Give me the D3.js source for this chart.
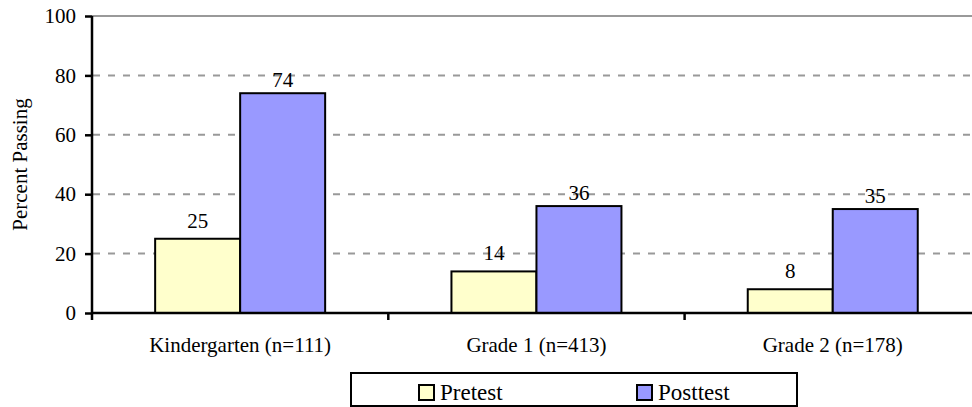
<!DOCTYPE html>
<html>
<head>
<meta charset="utf-8">
<script src="https://cdn.jsdelivr.net/npm/d3@7"></script>
<style>
  html, body { margin: 0; padding: 0; background: #fff; }
  svg { display: block; }
</style>
</head>
<body>
<svg id="chart" width="972" height="407"></svg>
<script>
const categories = ["Kindergarten (n=111)", "Grade 1 (n=413)", "Grade 2 (n=178)"];
const seriesNames = ["Pretest", "Posttest"];
const pretest = [25, 14, 8];
const posttest = [74, 36, 35];
const yTicks = [0, 20, 40, 60, 80, 100];
const colors = ["#FFFFCC", "#9999FF"];

(function () {
const FONT = '"Liberation Serif", "Times New Roman", Times, serif';
const svg = d3.select("#chart");
const W = 972;
const mLeft = 92, mTop = 16, mBottom = 313;
const bandW = 296.3;
const mRight = mLeft + bandW * categories.length;

const x = d3.scaleBand().domain(categories).range([mLeft, mRight]).paddingInner(0).paddingOuter(0);
const barW = 85;
const xs = d3.scaleBand().domain(seriesNames).range([0, barW * 2]);
const y = d3.scaleLinear().domain([0, 100]).range([mBottom, mTop]);

// gridlines
svg.append("g").selectAll("line")
  .data(yTicks.filter(d => d > 0 && d < 100))
  .join("line")
  .attr("x1", mLeft + 1).attr("x2", W)
  .attr("y1", d => y(d)).attr("y2", d => y(d))
  .attr("stroke", "#999").attr("stroke-width", 2)
  .attr("stroke-dasharray", "7,8");
svg.append("line")
  .attr("x1", mLeft).attr("x2", W)
  .attr("y1", y(100)).attr("y2", y(100))
  .attr("stroke", "#999").attr("stroke-width", 2);

// bars
const data = categories.map((c, i) => ({ c, vals: [pretest[i], posttest[i]] }));
const groups = svg.append("g").selectAll("g")
  .data(data).join("g")
  .attr("transform", d => `translate(${x(d.c) + x.bandwidth() / 2 - barW},0)`);
groups.selectAll("rect")
  .data(d => d.vals.map((v, j) => ({ v, s: seriesNames[j], j })))
  .join("rect")
  .attr("x", d => xs(d.s))
  .attr("y", d => y(d.v))
  .attr("width", xs.bandwidth())
  .attr("height", d => y(0) - y(d.v))
  .attr("fill", d => colors[d.j])
  .attr("stroke", "#000").attr("stroke-width", 2);
groups.selectAll("text")
  .data(d => d.vals.map((v, j) => ({ v, s: seriesNames[j], j })))
  .join("text")
  .attr("x", d => xs(d.s) + xs.bandwidth() / 2)
  .attr("y", d => y(d.v) - (d.j === 0 ? 11 : 6.5))
  .attr("text-anchor", "middle")
  .style("font-family", FONT)
  .style("font-size", "21px")
  .attr("fill", "#000")
  .text(d => d.v);

// y axis
const yAxis = svg.append("g")
  .attr("transform", `translate(${mLeft},0)`)
  .call(d3.axisLeft(y).tickValues(yTicks).tickSize(7).tickPadding(9));
yAxis.select(".domain").attr("stroke", "#000").attr("stroke-width", 2.5)
  .attr("d", `M0,${y(100)}V${y(0)}`);
yAxis.selectAll(".tick line").attr("stroke", "#000").attr("stroke-width", 2.5);
yAxis.selectAll(".tick text").attr("fill", "#000")
  .style("font-family", FONT).style("font-size", "21px");

// x axis
const xAxis = svg.append("g")
  .attr("transform", `translate(0,${mBottom})`)
  .call(d3.axisBottom(x).tickSize(0).tickPadding(24));
xAxis.select(".domain").attr("stroke", "#000").attr("stroke-width", 2.5)
  .attr("d", `M${mLeft},0H${W}`);
xAxis.selectAll(".tick text").attr("fill", "#000")
  .style("font-family", FONT).style("font-size", "21px");
// category separator ticks
svg.append("g").selectAll("line")
  .data(categories)
  .join("line")
  .attr("x1", d => x(d)).attr("x2", d => x(d))
  .attr("y1", mBottom).attr("y2", mBottom + 7)
  .attr("stroke", "#000").attr("stroke-width", 2.5);

// y axis title
svg.append("text")
  .attr("transform", `translate(27,${(mTop + mBottom) / 2}) rotate(-90)`)
  .attr("text-anchor", "middle")
  .style("font-family", FONT)
  .style("font-size", "21px")
  .text("Percent Passing");

// legend
const lg = svg.append("g");
lg.append("rect")
  .attr("x", 351).attr("y", 373).attr("width", 446).attr("height", 33)
  .attr("fill", "#fff").attr("stroke", "#000").attr("stroke-width", 2);
const legendX = [419, 637];
seriesNames.forEach((s, i) => {
  lg.append("rect")
    .attr("x", legendX[i]).attr("y", 385).attr("width", 15).attr("height", 15)
    .attr("fill", colors[i]).attr("stroke", "#000").attr("stroke-width", 2);
  lg.append("text")
    .attr("x", legendX[i] + 21).attr("y", 400)
    .style("font-family", FONT)
    .style("font-size", "23px")
    .text(s);
});
})();
</script>
</body>
</html>
